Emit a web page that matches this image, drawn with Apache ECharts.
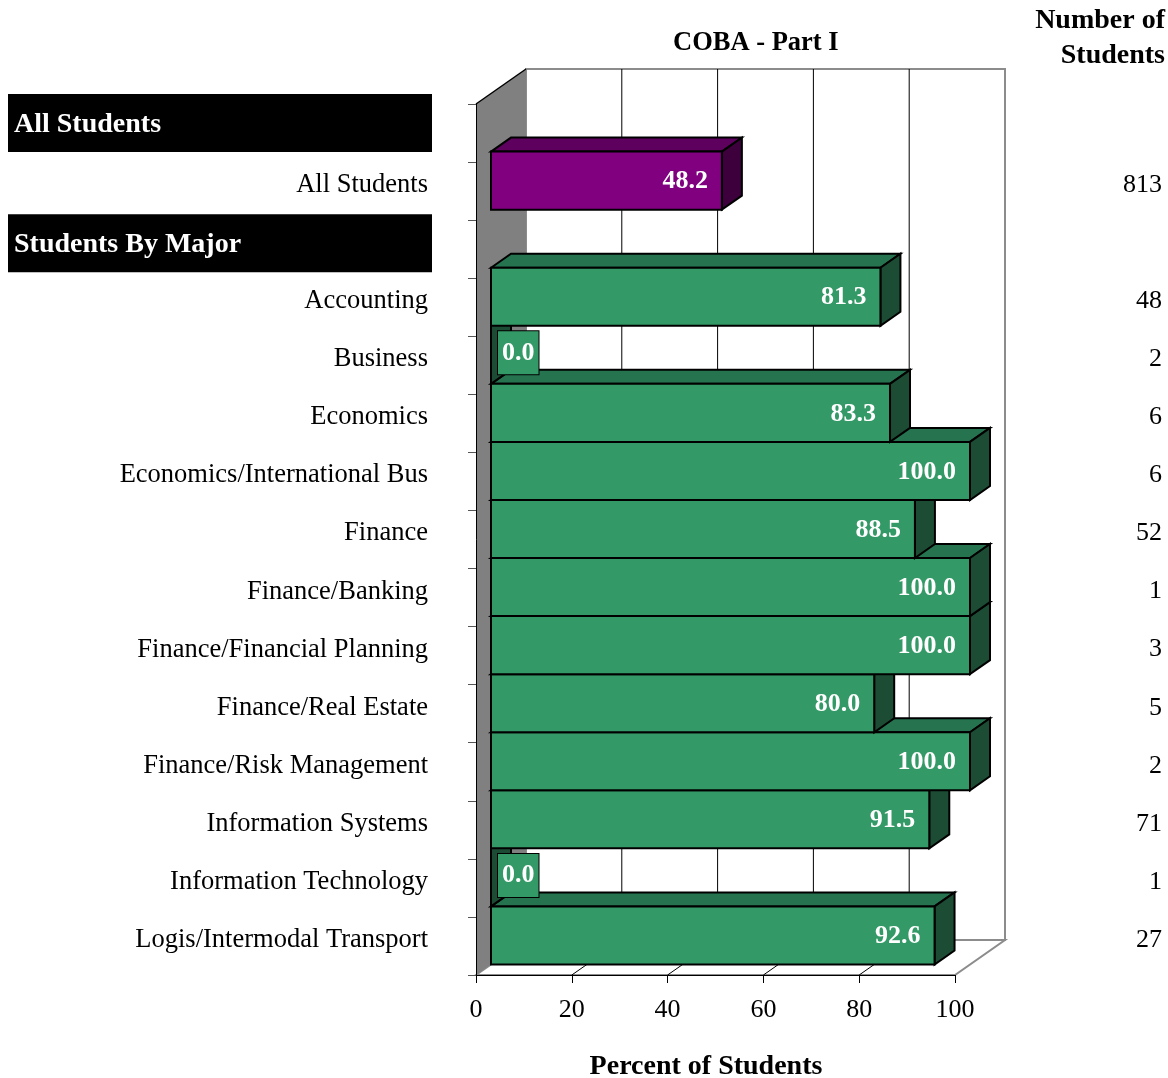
<!DOCTYPE html>
<html><head><meta charset="utf-8">
<script src="https://cdn.jsdelivr.net/npm/echarts@6/dist/echarts.min.js"></script>
<style>html,body{margin:0;padding:0;background:#fff}#c{width:1168px;height:1078px}</style>
</head><body><div id="c"></div>
<script>
// ---- data ----
const categories = ['All Students', 'All Students', 'Students By Major', 'Accounting', 'Business',
  'Economics', 'Economics/International Bus', 'Finance', 'Finance/Banking',
  'Finance/Financial Planning', 'Finance/Real Estate', 'Finance/Risk Management',
  'Information Systems', 'Information Technology', 'Logis/Intermodal Transport'];
const isHeader = [true, false, true, false, false, false, false, false, false, false, false, false, false, false, false];
const percentValues = [null, 48.2, null, 81.3, 0.0, 83.3, 100.0, 88.5, 100.0, 100.0, 80.0, 100.0, 91.5, 0.0, 92.6];
const studentCounts = ['', '813', '', '48', '2', '6', '6', '52', '1', '3', '5', '2', '71', '1', '27'];
const barGroup = ['', 'all', '', 'major', 'major', 'major', 'major', 'major', 'major', 'major', 'major', 'major', 'major', 'major', 'major'];
const xTicks = [0, 20, 40, 60, 80, 100];

// ---- style ----
const FONT = 'Liberation Serif';
const DX = 50, DY = -35;      // full depth of the 3D box
const FF = 0.3, FB = 0.7;     // bar front / back depth fractions
const PAL = {
  all: { front: '#800080', top: '#5e005e', side: '#3d003d' },
  major: { front: '#339966', top: '#267350', side: '#1c4d34' }
};

const barData = [];
percentValues.forEach((v, i) => { if (v !== null) barData.push([v, i]); });

// left category items (second header sits a little lower)
let headerCount = 0;
const leftCats = categories.map((c, i) => {
  if (isHeader[i]) {
    headerCount++;
    if (headerCount > 1) return { value: c, textStyle: { padding: [0, 0, 12, 0] } };
  }
  return c;
});

function renderWalls(params, api) {
  const cs = params.coordSys;
  const L = cs.x, R = cs.x + cs.width, T = cs.y, B = cs.y + cs.height;
  const ch = [];
  ch.push({ type: 'rect', shape: { x: L + DX, y: T + DY, width: R - L, height: B - T },
    style: { fill: '#fff', stroke: '#8c8c8c', lineWidth: 2 }, z2: 1 });
  xTicks.forEach(t => {
    if (t === xTicks[0] || t === xTicks[xTicks.length - 1]) return;
    const x = api.coord([t, 0])[0];
    ch.push({ type: 'line', shape: { x1: x + DX, y1: T + DY, x2: x + DX, y2: B + DY },
      style: { stroke: '#000', lineWidth: 1 }, z2: 2 });
  });
  ch.push({ type: 'polygon', shape: { points: [[L, B], [L + DX, B + DY], [R + DX, B + DY], [R, B]] },
    style: { fill: '#fff', stroke: '#8c8c8c', lineWidth: 2 }, z2: 3 });
  xTicks.forEach(t => {
    if (t === xTicks[0] || t === xTicks[xTicks.length - 1]) return;
    const x = api.coord([t, 0])[0];
    ch.push({ type: 'line', shape: { x1: x, y1: B, x2: x + DX, y2: B + DY },
      style: { stroke: '#000', lineWidth: 1 }, z2: 4 });
  });
  ch.push({ type: 'polygon', shape: { points: [[L, T], [L + DX, T + DY], [L + DX, B + DY], [L, B]] },
    style: { fill: '#808080' }, z2: 5 });
  ch.push({ type: 'line', shape: { x1: L, y1: T, x2: L + DX, y2: T + DY },
    style: { stroke: '#000', lineWidth: 1.5 }, z2: 6 });
  return { type: 'group', children: ch };
}

function renderBar(params, api) {
  const v = api.value(0), idx = api.value(1);
  const c0 = api.coord([0, idx]), c1 = api.coord([v, idx]);
  const h = api.size([0, 1])[1];
  const fx0 = c0[0] + DX * FF, fx1 = c1[0] + DX * FF;
  const fy0 = c0[1] - h / 2 + DY * FF, fy1 = c0[1] + h / 2 + DY * FF;
  const bx = DX * (FB - FF), by = DY * (FB - FF);
  const pal = PAL[barGroup[idx]];
  const z = (40 - idx) * 10;
  const stroke = { stroke: '#000', lineWidth: 2, lineJoin: 'miter' };
  const ch = [
    { type: 'polygon', shape: { points: [[fx0, fy0], [fx0 + bx, fy0 + by], [fx1 + bx, fy0 + by], [fx1, fy0]] },
      style: Object.assign({ fill: pal.top }, stroke), z2: z },
    { type: 'polygon', shape: { points: [[fx1, fy0], [fx1 + bx, fy0 + by], [fx1 + bx, fy1 + by], [fx1, fy1]] },
      style: Object.assign({ fill: pal.side }, stroke), z2: z + 1 },
    { type: 'rect', shape: { x: fx0, y: fy0, width: fx1 - fx0, height: fy1 - fy0 },
      style: Object.assign({ fill: pal.front }, stroke), z2: z + 2 }
  ];
  const txt = v.toFixed(1);
  if (v > 0) {
    ch.push({ type: 'text', x: fx1 - 14, y: (fy0 + fy1) / 2 + 1,
      style: { text: txt, fill: '#fff', fontFamily: FONT, fontSize: 26, fontWeight: 'bold',
        align: 'right', verticalAlign: 'middle' }, z2: z + 3 });
  } else {
    ch.push({ type: 'text', x: fx0 + 7, y: (fy0 + fy1) / 2 - 2,
      style: { text: txt, fill: '#fff', fontFamily: FONT, fontSize: 26, fontWeight: 'bold',
        align: 'left', verticalAlign: 'middle', backgroundColor: pal.front,
        borderColor: '#000', borderWidth: 1, padding: [9, 4, 8, 4] }, z2: z + 3 });
  }
  return { type: 'group', children: ch };
}

const chart = echarts.init(document.getElementById('c'), null, { renderer: 'canvas' });
chart.setOption({
  animation: false,
  backgroundColor: '#fff',
  textStyle: { fontFamily: FONT },
  title: [
    { text: 'COBA - Part I', left: 673, top: 30, padding: 0,
      textStyle: { fontFamily: FONT, fontSize: 26.5, fontWeight: 'bold', color: '#000' } },
    { text: 'Number of\nStudents', left: 1165, top: 3, padding: 0, textAlign: 'right',
      textStyle: { fontFamily: FONT, fontSize: 28, fontWeight: 'bold', color: '#000', lineHeight: 35, align: 'right' } }
  ],
  grid: { left: 476, right: 213, top: 104, bottom: 103, containLabel: false, outerBoundsMode: 'none' },
  xAxis: {
    type: 'value', min: 0, max: 100, interval: 20,
    axisLine: { show: true, lineStyle: { color: '#000', width: 1 } },
    axisTick: { show: true, length: 8, lineStyle: { color: '#000' } },
    axisLabel: { fontFamily: FONT, fontSize: 26, color: '#000', margin: 22,
      formatter: v => String(v) },
    splitLine: { show: false },
    name: 'Percent of Students', nameLocation: 'middle', nameGap: 78,
    nameTextStyle: { fontFamily: FONT, fontSize: 28, fontWeight: 'bold', color: '#000', padding: [0, 19, 0, 0] },
    z: 5
  },
  yAxis: [
    {
      type: 'category', data: leftCats, inverse: true,
      axisLine: { show: true, lineStyle: { color: '#000', width: 1 } },
      axisTick: { show: true, length: 8, interval: 0, lineStyle: { color: '#555' } },
      axisLabel: {
        interval: 0, margin: 44, align: 'right', padding: [0, 0, 20, 0],
        fontFamily: FONT, fontSize: 26.5, color: '#000',
        formatter: (val, idx) => isHeader[idx] ? '{h|' + val + '}' : '{n|' + val + '}',
        rich: {
          h: { backgroundColor: '#000', color: '#fff', fontFamily: FONT, fontSize: 28, fontWeight: 'bold',
            width: 418, height: 54, lineHeight: 54, padding: [4, 0, 0, 6], align: 'left' },
          n: { color: '#000', fontFamily: FONT, fontSize: 26.5, padding: [8, 4, 0, 0] }
        }
      },
      splitLine: { show: false },
      z: 5
    },
    {
      type: 'category', data: categories, inverse: true, position: 'right',
      axisLine: { show: false }, axisTick: { show: false }, splitLine: { show: false },
      axisLabel: {
        interval: 0, margin: 207, align: 'right',
        fontFamily: FONT, fontSize: 26, color: '#000',
        formatter: (val, idx) => '{c|' + studentCounts[idx] + '}',
        rich: { c: { fontFamily: FONT, fontSize: 26, color: '#000', padding: [0, 0, 12, 0] } }
      }
    }
  ],
  series: [
    { type: 'custom', name: 'walls', coordinateSystem: 'cartesian2d', xAxisIndex: 0, yAxisIndex: 0,
      data: [[0, 0]], renderItem: renderWalls, clip: false, silent: true, z: 1 },
    { type: 'custom', name: 'Percent of Students', coordinateSystem: 'cartesian2d', xAxisIndex: 0, yAxisIndex: 0,
      data: barData, renderItem: renderBar, clip: false, silent: true, z: 2 }
  ]
});
</script>
</body></html>
